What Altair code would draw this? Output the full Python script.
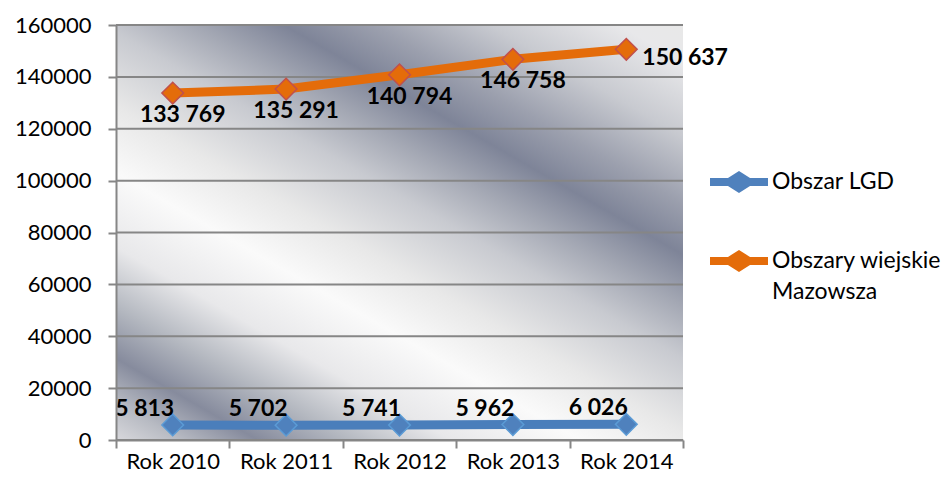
import altair as alt
import pandas as pd

years = ["Rok 2010", "Rok 2011", "Rok 2012", "Rok 2013", "Rok 2014"]
series = ["Obszar LGD", "Obszary wiejskie Mazowsza"]
lgd_values = [5813, 5702, 5741, 5962, 6026]
maz_values = [133769, 135291, 140794, 146758, 150637]
y_ticks = [0, 20000, 40000, 60000, 80000, 100000, 120000, 140000, 160000]

rows = []
for s, vals in zip(series, [lgd_values, maz_values]):
    for yr, v in zip(years, vals):
        rows.append({"year": yr, "series": s, "edge": s, "value": v,
                     "label": f"{v:,}".replace(",", " ")})
df = pd.DataFrame(rows)
grid_df = pd.DataFrame({"value": y_ticks})

FONT = "Lato"
AX = "#868686"

# linear gradient in the rect's bounding box; bands run at ~30 degrees
grad = alt.LinearGradient(
    gradient="linear", x1=0, y1=1, x2=0.868, y2=-0.104,
    stops=[
        alt.GradientStop(offset=0.00, color="#d8d8dc"),
        alt.GradientStop(offset=0.05, color="#b8bbc3"),
        alt.GradientStop(offset=0.11, color="#868b9d"),
        alt.GradientStop(offset=0.18, color="#b4b8c0"),
        alt.GradientStop(offset=0.26, color="#e8e8ea"),
        alt.GradientStop(offset=0.36, color="#fafafa"),
        alt.GradientStop(offset=0.45, color="#e8e8e8"),
        alt.GradientStop(offset=0.55, color="#c8cad0"),
        alt.GradientStop(offset=0.62, color="#a4a8b4"),
        alt.GradientStop(offset=0.69, color="#7e8498"),
        alt.GradientStop(offset=0.76, color="#9ca0ae"),
        alt.GradientStop(offset=0.85, color="#c8cad0"),
        alt.GradientStop(offset=0.95, color="#e8e8ea"),
        alt.GradientStop(offset=1.00, color="#e8e8e8"),
    ],
)

y_scale = alt.Scale(domain=[0, 160000], nice=False, zero=True)

x_enc = alt.X(
    "year:N", sort=years, bandPosition=0.5,
    scale=alt.Scale(type="band", paddingInner=0, paddingOuter=0),
    axis=alt.Axis(title=None, labelAngle=0, tickBand="extent", grid=False,
                  labelPadding=3, zindex=1),
)
y_enc = alt.Y(
    "value:Q", scale=y_scale,
    axis=alt.Axis(title=None, values=y_ticks, format="d", grid=False,
                  labelPadding=17, zindex=1),
)

background = alt.Chart(pd.DataFrame({"k": [0]})).mark_rect(fill=grad, strokeWidth=0).encode(
    x=alt.value(0), x2=alt.value("width"), y=alt.value(0), y2=alt.value("height")
)

gridlines = alt.Chart(grid_df).mark_rule(color=AX, strokeWidth=2).encode(
    y=alt.Y("value:Q", scale=y_scale), x=alt.value(0), x2=alt.value("width")
)

base = alt.Chart(df).encode(x=x_enc, y=y_enc)

line = base.mark_line(strokeWidth=9, strokeCap="round").encode(
    color=alt.Color("series:N", scale=alt.Scale(domain=series, range=["#4A7EBB", "#E46C0A"]),
                    legend=None)
)

legend_path = ("M-1,-0.14 L-0.38,-0.14 L0,-0.38 L0.38,-0.14 L1,-0.14 L1,0.14 "
               "L0.38,0.14 L0,0.38 L-0.38,0.14 L-1,0.14 Z")

points = base.mark_point(shape="diamond", size=470, filled=True, strokeWidth=1.5,
                         opacity=1).encode(
    fill=alt.Fill("series:N", scale=alt.Scale(range=["#4F81BD", "#E46C0A"]),
                  sort="ascending",
                  legend=alt.Legend(
                      title=None, orient="none", legendX=594, legendY=128,
                      symbolType=legend_path, symbolSize=3364, symbolStrokeWidth=0,
                      labelFont=FONT, labelFontSize=23,
                      labelColor="#000000", labelOffset=4, rowPadding=38,
                      labelLimit=400, padding=0,
                      labelExpr="replace(datum.label, 'wiejskie ', 'wiejskie|')",
                  )),
    stroke=alt.Stroke("edge:N", scale=alt.Scale(domain=series, range=["#5B9BD5", "#C0504D"]),
                      legend=None),
)

text_style = dict(font=FONT, fontSize=23, fontWeight="bold", color="#000000")

lgd_text = base.transform_filter(alt.datum.series == series[0]).mark_text(
    dx=-28, dy=-16, **text_style).encode(text="label:N")
maz_text = base.transform_filter(
    (alt.datum.series == series[1]) & (alt.datum.year != years[-1])
).mark_text(dx=10, dy=22, **text_style).encode(text="label:N")
maz_last = base.transform_filter(
    (alt.datum.series == series[1]) & (alt.datum.year == years[-1])
).mark_text(dx=16, dy=9, align="left", **text_style).encode(text="label:N")

chart = alt.layer(background, gridlines, line, points, lgd_text, maz_text, maz_last).properties(
    width=567, height=415,
    padding={"left": 108, "top": 17, "right": 259, "bottom": 38},
    autosize="none", background="#ffffff",
).configure_view(
    stroke=None,
).configure_axis(
    labelFont=FONT, labelFontSize=22, labelColor="#000000",
    domainColor=AX, domainWidth=2, tickColor=AX, tickWidth=2, tickSize=8,
)
chart.config.style = {"guide-label": {"lineBreak": "|", "lineHeight": 31}}

chart.save("out.html", embed_options={"renderer": "svg", "actions": False})
